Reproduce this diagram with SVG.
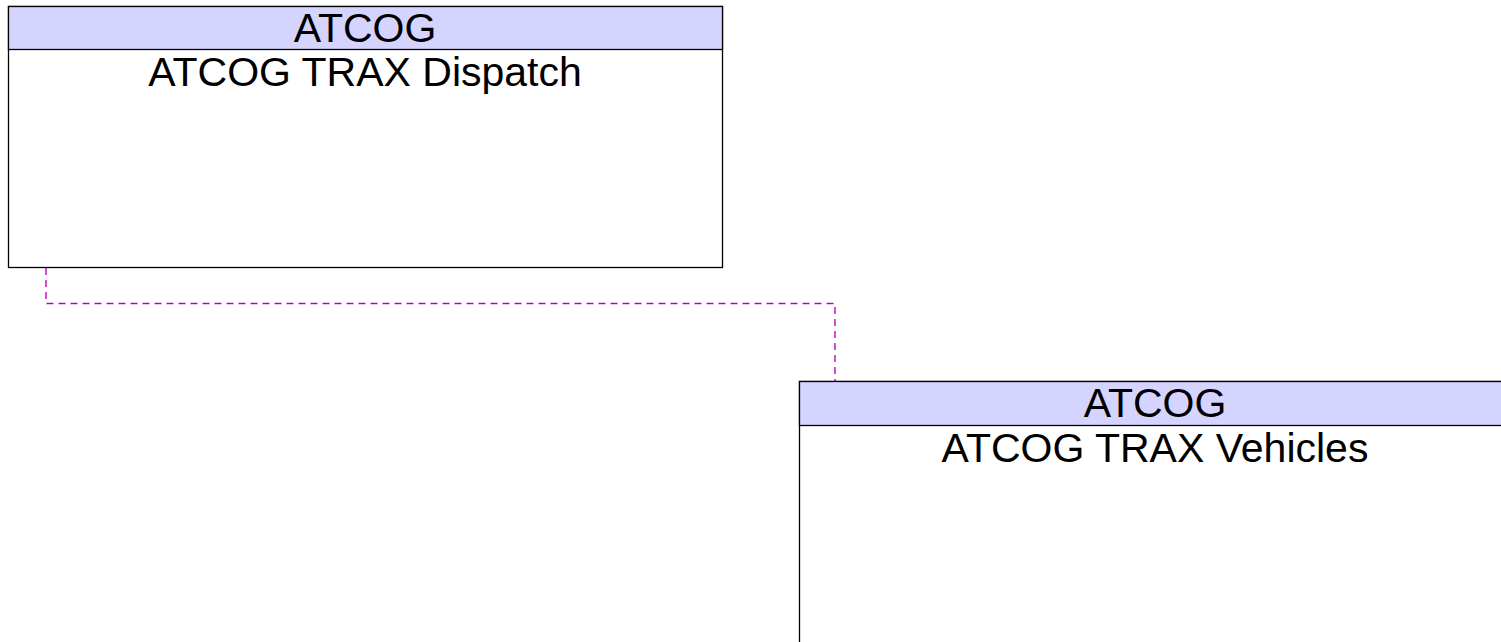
<svg xmlns="http://www.w3.org/2000/svg" width="1501" height="642" viewBox="0 0 1501 642">
<style>
.box{fill:#ffffff;stroke:#000000;stroke-width:1.3}
.hdr{fill:#d4d4ff;stroke:#000000;stroke-width:1.3}
.t{font-family:"Liberation Sans",Arial,sans-serif;font-size:41px;fill:#000000;text-anchor:middle}
.conn{fill:none;stroke:#c000c0;stroke-width:1.4;stroke-dasharray:7,5}
</style>
<rect x="0" y="0" width="1501" height="642" fill="#ffffff"/>
<g id="connectors">
<path class="conn" d="M46,268 V303.5 H835 V381"/>
</g>
<g id="node-dispatch">
<rect class="box" x="8.5" y="6.5" width="714" height="261"/>
<rect class="hdr" x="8.5" y="6.5" width="714" height="43"/>
<text class="t" x="365" y="42">ATCOG</text>
<text class="t" x="365" y="86">ATCOG TRAX Dispatch</text>
</g>
<g id="node-vehicles">
<rect class="box" x="799.5" y="381.5" width="714" height="280"/>
<rect class="hdr" x="799.5" y="381.5" width="714" height="44"/>
<text class="t" x="1155" y="417">ATCOG</text>
<text class="t" x="1155" y="461.5">ATCOG TRAX Vehicles</text>
</g>
</svg>
